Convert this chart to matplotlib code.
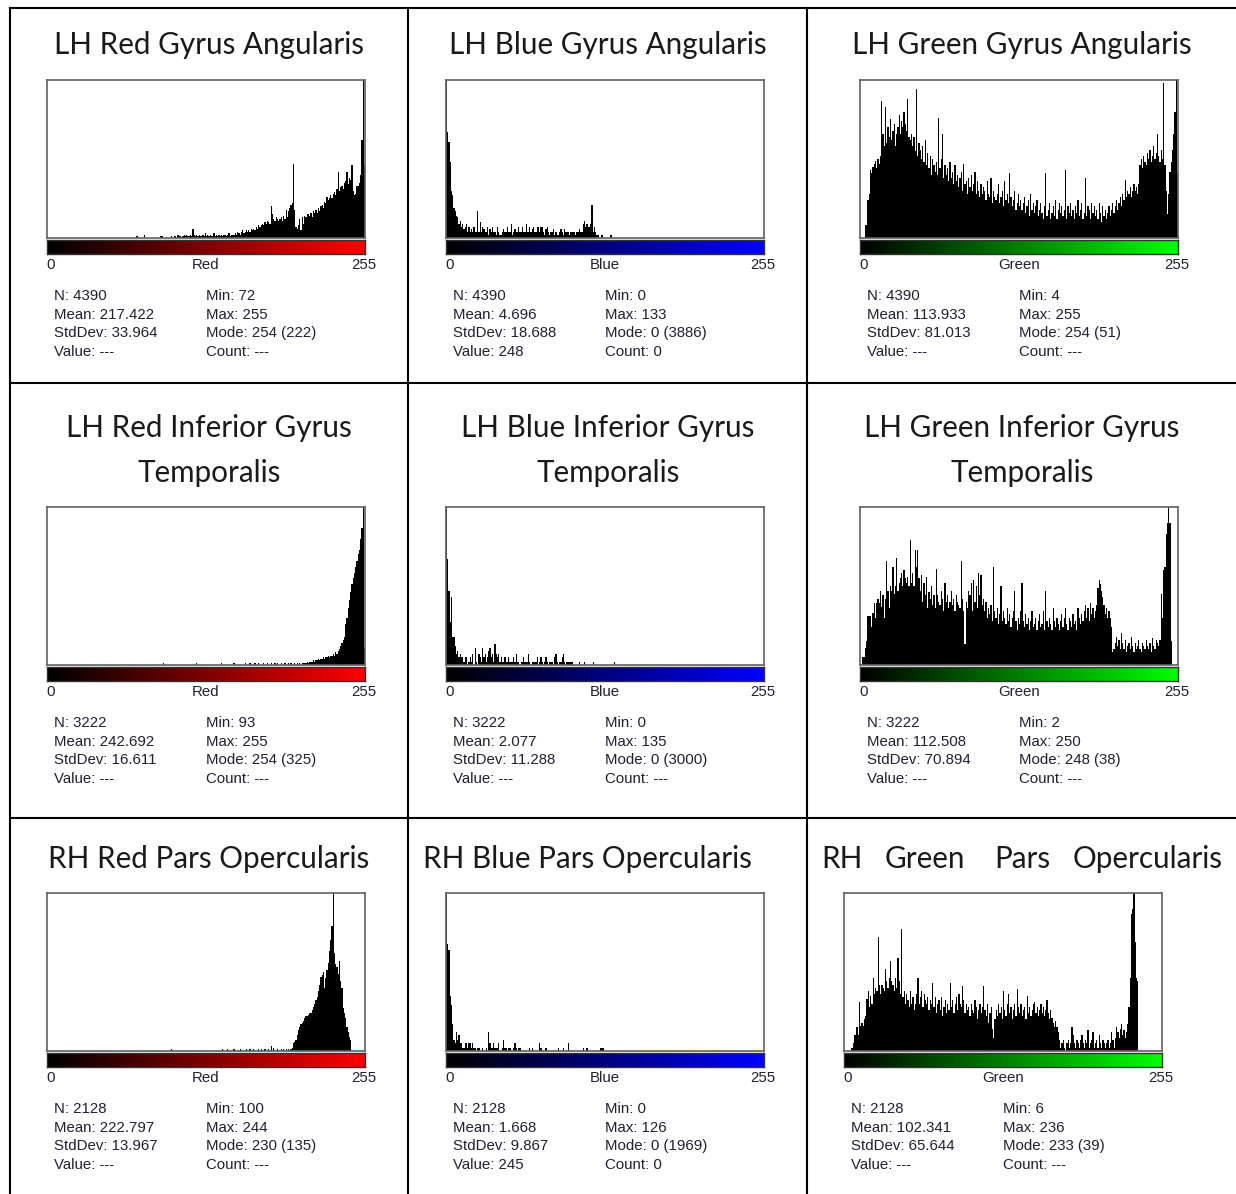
import numpy as np
import matplotlib
matplotlib.use("Agg")
import matplotlib.pyplot as plt
from matplotlib.lines import Line2D

# histogram heights per grey level (0..255), as % of plot height
red_ga = ([0] * 72 + [1, 0, 0, 0, 0, 0, 2] + [0] * 12 + [1, 1] + [0] * 7
          + [1, 0, 1, 1, 0, 2, 1, 1, 0, 1]
          + [2, 1, 2, 1, 1, 2, 1, 6, 2, 1]
          + [2, 1, 2, 1, 1, 2, 1, 3, 1, 2]
          + [1, 2, 1, 1, 3, 1, 2, 1, 2, 1]
          + [2, 1, 2, 2, 1, 2, 3, 1, 2, 2]
          + [2, 3, 2, 4, 3, 2, 4, 5, 3, 4]
          + [5, 4, 5, 4, 6, 5, 6, 5, 7, 6]
          + [8, 7, 8, 9, 8, 10, 9, 11, 10, 9]
          + [20, 15, 12, 11, 13, 12, 11, 12, 13, 11]
          + [14, 12, 18, 13, 17, 19, 21, 22, 47, 18]
          + [7, 6, 8, 12, 5, 13, 9, 14, 13, 15]
          + [15, 14, 16, 13, 17, 16, 18, 16, 19, 17]
          + [20, 21, 19, 23, 22, 26, 24, 25, 27, 25]
          + [28, 29, 27, 31, 42, 30, 32, 33, 31, 35]
          + [36, 42, 34, 38, 37, 46, 30, 27, 28, 33]
          + [33, 35, 40, 62, 100, 46])

blue_ga = ([130, 67, 61, 48, 30, 27, 19, 17, 14, 13]
           + [9, 11, 7, 9, 6, 7, 9, 4, 7, 4]
           + [6, 4, 7, 4, 4, 17, 4, 10, 4, 7]
           + [6, 4, 4, 7, 2, 6, 4, 7, 4, 4]
           + [2, 7, 4, 2, 2, 4, 6, 4, 4, 7]
           + [4, 4, 9, 2, 4, 6, 4, 4, 7, 4]
           + [4, 7, 4, 4, 9, 4, 4, 7, 4, 6]
           + [7, 4, 4, 7, 7, 4, 7, 7, 4, 2]
           + [6, 7, 4, 2, 4, 4, 6, 2, 4, 2]
           + [2, 4, 6, 4, 2, 6, 4, 4, 4, 2]
           + [4, 4, 4, 4, 2, 4, 4, 6, 4, 4]
           + [9, 11, 7, 9, 7, 7, 9, 21, 4, 7]
           + [4, 2, 2, 0, 0, 2, 0, 0, 0, 0]
           + [0, 0, 2, 2] + [0] * 122)

green_ga = ([0, 0, 0, 0, 8, 8, 24, 28, 43, 41]
            + [45, 47, 49, 44, 50, 47, 52, 87, 66, 58]
            + [83, 60, 70, 64, 75, 62, 68, 72, 58, 66]
            + [70, 78, 66, 74, 70, 80, 72, 68, 88, 64]
            + [62, 66, 58, 64, 55, 94, 52, 60, 56, 50]
            + [58, 48, 62, 46, 54, 44, 52, 40, 50, 46]
            + [42, 48, 40, 76, 44, 50, 66, 38, 46, 40]
            + [44, 36, 48, 38, 42, 34, 46, 36, 40, 32]
            + [38, 42, 30, 47, 34, 36, 28, 38, 32, 40]
            + [30, 34, 42, 28, 36, 30, 26, 34, 28, 32]
            + [30, 24, 36, 28, 26, 38, 22, 30, 26, 24]
            + [28, 34, 22, 26, 30, 20, 36, 24, 28, 22]
            + [41, 26, 20, 24, 30, 18, 22, 28, 20, 24]
            + [18, 22, 26, 16, 20, 24, 14, 28, 18, 22]
            + [16, 20, 24, 14, 18, 22, 16, 12, 20, 41]
            + [14, 18, 22, 12, 16, 20, 14, 24, 12, 18]
            + [22, 16, 20, 14, 18, 43, 12, 20, 16, 22]
            + [14, 18, 12, 20, 16, 24, 14, 18, 22, 12]
            + [16, 38, 14, 20, 18, 12, 22, 16, 20, 14]
            + [18, 12, 22, 16, 10, 20, 14, 18, 12, 16]
            + [20, 14, 18, 22, 16, 20, 24, 18, 22, 26]
            + [20, 28, 24, 37, 26, 30, 28, 32, 26, 30]
            + [34, 30, 32, 28, 34, 46, 50, 44, 52, 48]
            + [46, 54, 50, 56, 48, 52, 58, 50, 54, 66]
            + [52, 48, 56, 50, 98, 46, 30, 15, 28, 42]
            + [48, 56, 66, 80, 100, 41])

red_igt = ([0] * 93 + [1] + [0] * 26 + [1] + [0] * 19 + [1] + [0] * 9 + [1] + [0] * 8
           + [1, 0, 0, 0, 1, 0, 0, 0, 1, 0]
           + [0, 1, 0, 0, 0, 1, 0, 0, 1, 0]
           + [0, 1, 0, 0, 1, 0, 1, 0, 0, 1]
           + [0, 0, 1, 0, 0, 1, 0, 1, 0, 0]
           + [1, 0, 1, 0, 1, 0, 1]
           + [1, 1, 1, 2, 1, 2, 2, 2, 3, 2, 3, 3, 4, 3, 4, 4]
           + [5, 4, 5, 5, 6, 5, 6, 6, 7, 6, 8, 7, 9, 10]
           + [12, 14, 16, 18, 26, 30, 36, 41, 46, 51, 55, 58, 62, 66, 70, 73, 80, 87, 100, 11])

blue_igt = ([130, 67, 47, 27, 43, 18, 18, 12, 7, 9]
            + [5, 7, 5, 5, 2, 5, 5, 0, 2, 5]
            + [2, 7, 0, 11, 2, 0, 7, 5, 2, 11]
            + [5, 7, 2, 5, 9, 11, 5, 7, 2, 13]
            + [7, 5, 7, 2, 5, 2, 2, 5, 2, 2]
            + [5, 2, 2, 2, 5, 2, 7, 2, 2, 0]
            + [2, 2, 5, 2, 2, 2, 7, 2, 0, 2]
            + [2, 2, 2, 5, 0, 2, 5, 2, 0, 2]
            + [5, 2, 0, 2, 2, 2, 0, 5, 7, 2]
            + [0, 2, 2, 5, 7, 2, 0, 2, 2, 2]
            + [2, 2, 0, 0, 0, 0, 0, 2, 0, 0]
            + [0, 2, 0, 0, 0, 0, 0, 0, 2, 0]
            + [0] * 15 + [2] + [0] * 120)

green_igt = ([0, 0, 5, 5, 11, 15, 31, 31, 31, 24]
             + [33, 39, 30, 39, 42, 39, 47, 37, 44, 30]
             + [42, 66, 47, 36, 50, 47, 62, 45, 50, 68]
             + [47, 52, 55, 58, 50, 60, 55, 52, 56, 50]
             + [79, 52, 58, 50, 73, 62, 73, 55, 47, 57]
             + [40, 52, 44, 56, 36, 46, 42, 50, 38, 44]
             + [36, 61, 44, 40, 38, 47, 42, 34, 52, 40]
             + [44, 36, 40, 47, 38, 42, 34, 44, 40, 38]
             + [36, 66, 42, 34, 13, 40, 36, 47, 44, 52]
             + [34, 54, 40, 50, 36, 58, 44, 57, 38, 42]
             + [34, 40, 30, 36, 32, 38, 28, 62, 34, 30]
             + [36, 26, 32, 50, 28, 34, 30, 26, 36, 28]
             + [32, 24, 30, 34, 47, 28, 22, 30, 26, 34]
             + [52, 28, 24, 32, 26, 30, 22, 28, 34, 24]
             + [26, 30, 22, 28, 32, 24, 26, 34, 22, 47]
             + [28, 24, 30, 26, 22, 36, 28, 24, 30, 26]
             + [22, 28, 32, 24, 30, 36, 26, 22, 30, 28]
             + [24, 32, 26, 28, 22, 36, 30, 26, 32, 28]
             + [34, 38, 30, 36, 28, 39, 32, 36, 30, 34]
             + [38, 49, 54, 51, 47, 43, 38, 32, 36, 30]
             + [34, 30, 24, 8, 10, 14, 18, 12, 16, 10]
             + [20, 14, 10, 16, 8, 12, 14, 10, 18, 12]
             + [8, 14, 10, 12, 16, 10, 8, 14, 12, 10]
             + [16, 12, 10, 14, 8, 17, 12, 10, 16, 14]
             + [12, 16, 45, 30, 60, 62, 83, 90, 100, 90]
             + [15, 0, 0, 0, 0, 0])

red_po = ([0] * 100 + [1] + [0] * 40
          + [1, 0, 0, 0, 1, 0, 0, 0, 0, 1]
          + [0, 0, 0, 0, 1, 0, 0, 0, 0, 1]
          + [0, 0, 1, 0, 0, 1, 0, 0, 0, 1]
          + [0, 1, 0, 0, 1, 0, 0, 1, 0, 3]
          + [0, 2, 0, 0, 1, 0, 0, 1, 0, 1]
          + [0, 1, 0, 1, 0, 1]
          + [2, 5, 6, 7, 10, 13, 15, 17, 18, 19, 21, 22, 22, 23, 24, 24, 26, 28, 30, 32,
             34, 38, 42, 47, 48, 50, 40, 46, 51, 56, 63, 70, 79, 100, 62, 55, 53, 49, 57, 44,
             40, 27, 24, 21, 15, 12, 9, 7]
          + [0] * 11)

blue_po = ([130, 68, 64, 35, 29, 17, 7, 5, 12, 7, 10]
           + [5, 5, 2, 2, 5, 5, 2, 5, 5]
           + [2, 5, 2, 2, 0, 2, 2, 0, 0, 2]
           + [0, 0, 2, 0, 12, 5, 2, 2, 5, 2]
           + [2, 2, 5, 0, 0, 2, 7, 2, 2, 0]
           + [2, 2, 0, 0, 2, 5, 2, 0, 2, 2]
           + [0, 0, 0, 0, 0, 0, 0, 2, 0, 2]
           + [0, 0, 0, 0, 0, 5, 2, 0, 0, 0]
           + [2, 0, 0, 0, 0, 0, 0, 0, 0, 0]
           + [2, 0, 0, 0, 2, 0, 0, 0, 5, 0]
           + [0] * 10
           + [2, 0, 0, 2, 0, 0, 0, 0, 0, 0]
           + [0, 0, 0, 0, 2, 2, 2, 0, 0, 0]
           + [0] * 126)

green_po = ([0, 0, 0, 0, 0, 0, 2, 5, 10, 10]
            + [15, 10, 31, 16, 18, 16, 20, 22, 33, 38]
            + [28, 35, 30, 46, 36, 40, 38, 72, 42, 36]
            + [42, 40, 38, 52, 44, 40, 46, 57, 44, 42]
            + [38, 46, 40, 59, 44, 36, 77, 34, 38, 30]
            + [36, 32, 28, 38, 30, 34, 26, 30, 36, 46]
            + [30, 34, 38, 28, 36, 32, 30, 34, 26, 32]
            + [30, 43, 28, 34, 24, 30, 32, 26, 34, 22]
            + [28, 32, 24, 30, 26, 43, 28, 32, 24, 30]
            + [34, 26, 36, 30, 28, 41, 32, 24, 30, 26]
            + [28, 22, 30, 26, 24, 32, 28, 20, 26, 30]
            + [24, 28, 41, 26, 22, 30, 18, 24, 28, 14]
            + [8, 20, 26, 22, 30, 24, 28, 20, 38, 26]
            + [22, 30, 36, 24, 28, 20, 26, 30, 22, 39]
            + [28, 24, 30, 22, 26, 28, 20, 35, 24, 28]
            + [22, 26, 30, 31, 24, 28, 22, 26, 30, 24]
            + [28, 22, 26, 32, 24, 20, 26, 21, 18, 15]
            + [19, 15, 12, 7, 2, 5, 7, 2, 0, 5]
            + [7, 2, 5, 15, 10, 5, 2, 7, 5, 2]
            + [7, 10, 5, 2, 7, 5, 13, 2, 5, 7]
            + [12, 2, 5, 7, 2, 10, 5, 2, 7, 5]
            + [2, 5, 7, 2, 5, 12, 7, 2, 8, 15]
            + [12, 8, 14, 17, 10, 13, 8, 12, 17, 28]
            + [46, 87, 90, 100, 69, 46, 44]
            + [0] * 19)

hists = [red_ga, blue_ga, green_ga, red_igt, blue_igt, green_igt, red_po, blue_po, green_po]
channels = ["Red", "Blue", "Green"] * 3

stat_n = ["4390", "4390", "4390", "3222", "3222", "3222", "2128", "2128", "2128"]
stat_mean = ["217.422", "4.696", "113.933", "242.692", "2.077", "112.508", "222.797", "1.668", "102.341"]
stat_sd = ["33.964", "18.688", "81.013", "16.611", "11.288", "70.894", "13.967", "9.867", "65.644"]
stat_value = ["---", "248", "---", "---", "---", "---", "---", "245", "---"]
stat_min = ["72", "0", "4", "93", "0", "2", "100", "0", "6"]
stat_max = ["255", "133", "255", "255", "135", "250", "244", "126", "236"]
stat_mode = ["254 (222)", "0 (3886)", "254 (51)", "254 (325)", "0 (3000)", "248 (38)",
             "230 (135)", "0 (1969)", "233 (39)"]
stat_count = ["---", "0", "---", "---", "---", "---", "---", "0", "---"]

for h in hists:
    assert len(h) == 256, len(h)

W, H = 1236, 1194
fig = plt.figure(figsize=(W / 100, H / 100), dpi=100)
fig.patch.set_facecolor("white")


def box(x, y, w, h):
    return [x / W, 1 - (y + h) / H, w / W, h / H]


def put(x, y, s, **kw):
    fig.text(x / W, 1 - y / H, s, **kw)


title_font = dict(family="Lato", weight="normal", size=21.3, color="#1a1a1a")
small_font = dict(family="Liberation Sans", size=10.8, color="#202030")

# table rules
for x0, y0, x1, y1 in [(10, 8, 1236, 8), (10, 383, 1236, 383), (10, 818, 1236, 818),
                       (10, 8, 10, 1194), (408, 8, 408, 1194), (807, 8, 807, 1194)]:
    fig.add_artist(Line2D([x0 / W, x1 / W], [1 - y0 / H, 1 - y1 / H],
                          transform=fig.transFigure, color="black", lw=1.5))

# titles
put(209, 45, "LH Red Gyrus Angularis", ha="center", va="center", **title_font)
put(608, 45, "LH Blue Gyrus Angularis", ha="center", va="center", **title_font)
put(1022, 45, "LH Green Gyrus Angularis", ha="center", va="center", **title_font)
for cx, col in zip([209, 608, 1022], ["Red", "Blue", "Green"]):
    put(cx, 428, f"LH {col} Inferior Gyrus", ha="center", va="center", **title_font)
    put(cx, 473, "Temporalis", ha="center", va="center", **title_font)
put(209, 859, "RH Red Pars Opercularis", ha="center", va="center", **title_font)
put(423, 859, "RH Blue Pars Opercularis", ha="left", va="center", **title_font)
for wx, word in zip([821, 885, 994, 1073], ["RH", "Green", "Pars", "Opercularis"]):
    put(wx, 859, word, ha="left", va="center", **title_font)

lefts = [47, 446, 860, 47, 446, 860, 47, 446, 844]
tops = [80] * 3 + [507] * 3 + [893] * 3
ramp = np.linspace(0, 1, 256)
FW, FH = 318, 158

for i, vals in enumerate(hists):
    fx, fy = lefts[i], tops[i]
    ax = fig.add_axes(box(fx, fy, FW, FH))
    ax.bar(np.arange(256), vals, width=1.0, color="black", linewidth=0)
    ax.set_xlim(-0.5, 255.5)
    ax.set_ylim(0, 100)
    ax.set_xticks([])
    ax.set_yticks([])
    for sp in ax.spines.values():
        sp.set_color("#606060")
        sp.set_linewidth(1.2)

    cax = fig.add_axes(box(fx, fy + FH + 2, FW, 14))
    rgb = np.zeros((1, 256, 3))
    rgb[0, :, ["Red", "Green", "Blue"].index(channels[i])] = ramp
    cax.imshow(rgb, aspect="auto", extent=(0, 255, 0, 1))
    cax.set_xticks([])
    cax.set_yticks([])
    for sp in cax.spines.values():
        sp.set_color("#333333")
        sp.set_linewidth(1.0)

    ly = fy + 185
    put(fx - 1, ly, "0", ha="left", va="center", **small_font)
    put(fx + FW / 2, ly, channels[i], ha="center", va="center", **small_font)
    put(fx + FW + 11, ly, "255", ha="right", va="center", **small_font)

    left_lines = [f"N: {stat_n[i]}", f"Mean: {stat_mean[i]}", f"StdDev: {stat_sd[i]}",
                  f"Value: {stat_value[i]}"]
    right_lines = [f"Min: {stat_min[i]}", f"Max: {stat_max[i]}", f"Mode: {stat_mode[i]}",
                   f"Count: {stat_count[i]}"]
    for k in range(4):
        sy = fy + 216 + 18.6 * k
        put(fx + 7, sy, left_lines[k], ha="left", va="center", **small_font)
        put(fx + 159, sy, right_lines[k], ha="left", va="center", **small_font)

fig.savefig("out.png", dpi=100, facecolor="white")
